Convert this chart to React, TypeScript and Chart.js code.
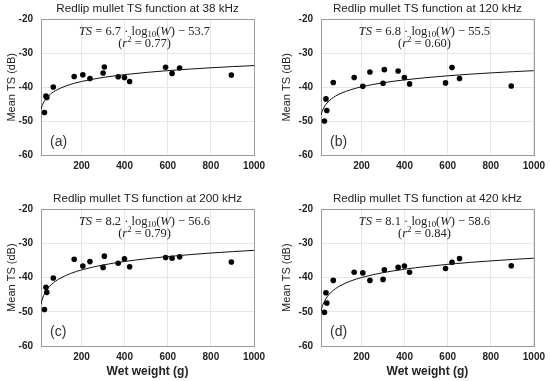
import React, { useEffect, useRef } from "react";
import { Chart, registerables } from "chart.js";

Chart.register(...registerables);

// ---- data ----
const weights = [28, 35, 39, 69, 166, 206, 239, 300, 306, 370, 399, 423, 590, 620, 655, 895];
const ts38 = [-47.4, -42.6, -43.0, -39.9, -36.8, -36.3, -37.4, -35.8, -34.0, -36.9, -37.1, -38.3, -34.1, -35.9, -34.3, -36.4];
const ts120 = [-49.9, -43.4, -46.8, -38.6, -37.1, -39.7, -35.5, -38.8, -34.8, -35.2, -37.1, -39.0, -38.7, -34.2, -37.4, -39.6];
const ts200 = [-49.3, -42.8, -44.3, -40.1, -34.6, -36.6, -35.3, -37.0, -33.7, -35.8, -34.5, -36.8, -34.1, -34.3, -33.9, -35.4];
const ts420 = [-50.1, -44.4, -47.4, -40.8, -38.4, -38.6, -40.8, -40.5, -37.7, -37.0, -36.6, -38.4, -37.3, -35.5, -34.4, -36.5];

// fitted curves (values along the drawn regression curve)
const fitWeights = [12, 15, 20, 30, 40, 60, 80, 100, 150, 200, 300, 400, 500, 600, 700, 800, 900, 1000];
const fit38 = [-46.47, -45.82, -44.98, -43.8, -42.97, -41.79, -40.95, -40.3, -39.12, -38.28, -37.1, -36.27, -35.62, -35.09, -34.64, -34.25, -33.91, -33.6];
const fit120 = [-48.16, -47.5, -46.65, -45.46, -44.61, -43.41, -42.56, -41.9, -40.7, -39.85, -38.66, -37.81, -37.15, -36.61, -36.15, -35.76, -35.41, -35.1];
const fit200 = [-47.75, -46.96, -45.93, -44.49, -43.46, -42.02, -40.99, -40.2, -38.76, -37.73, -36.29, -35.26, -34.47, -33.82, -33.27, -32.79, -32.38, -32.0];
const fit420 = [-49.86, -49.07, -48.06, -46.64, -45.62, -44.2, -43.19, -42.4, -40.97, -39.96, -38.53, -37.52, -36.74, -36.1, -35.55, -35.09, -34.67, -34.3];

const frequencies = ["38", "120", "200", "420"];
const slopes = ["6.7", "6.8", "8.2", "8.1"];
const intercepts = ["53.7", "55.5", "56.6", "58.6"];
const rSquared = ["0.77", "0.60", "0.79", "0.84"];
const panelLetters = ["(a)", "(b)", "(c)", "(d)"];
const xTicks = [200, 400, 600, 800, 1000];
const yTicks = [-20, -30, -40, -50, -60];
const xLabel = "Wet weight (g)";
const yLabel = "Mean TS (dB)";

const seriesList = [ts38, ts120, ts200, ts420];
const fitList = [fit38, fit120, fit200, fit420];

const SANS = '"Liberation Sans", Arial, sans-serif';
const SERIF = '"Liberation Serif", "Times New Roman", serif';

type Run = { t: string; italic?: boolean; sub?: boolean; sup?: boolean };

function drawRuns(ctx: CanvasRenderingContext2D, runs: Run[], cx: number, cy: number, size: number) {
  const fontFor = (r: Run) =>
    `${r.italic ? "italic " : ""}${r.sub || r.sup ? size * 0.7 : size}px ${SERIF}`;
  let total = 0;
  const widths: number[] = [];
  runs.forEach((r) => {
    ctx.font = fontFor(r);
    const w = ctx.measureText(r.t).width;
    widths.push(w);
    total += w;
  });
  let x = cx - total / 2;
  ctx.textBaseline = "middle";
  ctx.textAlign = "left";
  runs.forEach((r, i) => {
    ctx.font = fontFor(r);
    let y = cy;
    if (r.sub) y += size * 0.28;
    if (r.sup) y -= size * 0.3;
    ctx.fillText(r.t, x, y);
    x += widths[i];
  });
}

interface PanelProps {
  idx: number;
  width: number;
  height: number;
  left: number;
  right: number;
  bottom: number;
  showXTitle: boolean;
}

function Panel({ idx, width, height, left, right, bottom, showXTitle }: PanelProps) {
  const ref = useRef<HTMLCanvasElement | null>(null);

  useEffect(() => {
    const canvas = ref.current;
    if (!canvas) return;

    const decor = {
      id: "decor" + idx,
      beforeDatasetsDraw(chart: any) {
        const { ctx, chartArea } = chart;
        ctx.save();
        ctx.strokeStyle = "#9a9a9a";
        ctx.lineWidth = 1;
        ctx.strokeRect(
          Math.round(chartArea.left) + 0.5,
          Math.round(chartArea.top) + 0.5,
          Math.round(chartArea.right - chartArea.left),
          Math.round(chartArea.bottom - chartArea.top)
        );
        ctx.restore();
      },
      afterDatasetsDraw(chart: any) {
        const { ctx, chartArea } = chart;
        ctx.save();
        ctx.fillStyle = "#222";
        const cx = (chartArea.left + chartArea.right) / 2 - 3;
        const size = 12.5;
        drawRuns(
          ctx,
          [
            { t: "TS", italic: true },
            { t: " = " + slopes[idx] + " · log" },
            { t: "10", sub: true },
            { t: "(" },
            { t: "W", italic: true },
            { t: ") − " + intercepts[idx] },
          ],
          cx,
          chartArea.top + 12,
          size
        );
        drawRuns(
          ctx,
          [
            { t: "(" },
            { t: "r", italic: true },
            { t: "2", sup: true },
            { t: " = " + rSquared[idx] + ")" },
          ],
          cx,
          chartArea.top + 24.5,
          size
        );
        ctx.fillStyle = "#333";
        ctx.font = `14px ${SANS}`;
        ctx.textBaseline = "middle";
        ctx.textAlign = "left";
        ctx.fillText(panelLetters[idx], chartArea.left + 9, chartArea.bottom - 13.5);
        ctx.restore();
      },
    };

    const chart = new Chart(canvas, {
      type: "scatter",
      data: {
        datasets: [
          {
            type: "line",
            label: "fit",
            data: fitWeights.map((w, i) => ({ x: w, y: fitList[idx][i] })),
            borderColor: "#111",
            borderWidth: 1,
            pointRadius: 0,
            fill: false,
            cubicInterpolationMode: "monotone",
          } as any,
          {
            label: "TS",
            data: weights.map((w, i) => ({ x: w, y: seriesList[idx][i] })),
            backgroundColor: "#000",
            borderColor: "#000",
            pointRadius: 2.8,
            pointBorderWidth: 0,
          },
        ],
      },
      plugins: [decor],
      options: {
        animation: false,
        responsive: false,
        devicePixelRatio: 1,
        layout: { padding: { left: 0, right: width - right, top: 0, bottom: 0 } },
        plugins: {
          legend: { display: false },
          tooltip: { enabled: false },
          title: {
            display: true,
            text: `Redlip mullet TS function at ${frequencies[idx]} kHz`,
            color: "#222",
            font: { family: SANS, size: 11.7, weight: "normal" },
            padding: { top: 2, bottom: 3.3 },
            fullSize: false,
          } as any,
        },
        scales: {
          x: {
            type: "linear",
            min: 12,
            max: 1000,
            afterBuildTicks: (s: any) => {
              s.ticks = xTicks.map((v) => ({ value: v }));
            },
            afterFit: (s: any) => {
              s.height = height - bottom;
            },
            ticks: {
              color: "#222",
              font: { family: SANS, size: 10, weight: "bold" },
              padding: 5,
              maxRotation: 0,
              autoSkip: false,
              callback: (v: any) => String(v),
            },
            grid: { color: "#e6e6e6", drawTicks: false },
            border: { display: false },
            title: {
              display: showXTitle,
              text: xLabel,
              color: "#222",
              font: { family: SANS, size: 12, weight: "bold" },
              padding: { top: 0, bottom: 2.2 },
            },
          },
          y: {
            type: "linear",
            min: -60,
            max: -20,
            afterBuildTicks: (s: any) => {
              s.ticks = yTicks.map((v) => ({ value: v }));
            },
            afterFit: (s: any) => {
              s.width = left;
            },
            ticks: {
              color: "#222",
              font: { family: SANS, size: 10, weight: "bold" },
              padding: 8,
              callback: (v: any) => String(v),
            },
            grid: { color: "#e6e6e6", drawTicks: false },
            border: { display: false },
            title: {
              display: true,
              text: yLabel,
              color: "#222",
              font: { family: SANS, size: 11, weight: "normal" },
              padding: { top: 5.4, bottom: 0 },
            },
          },
        },
      } as any,
    });
    return () => chart.destroy();
  }, [idx, width, height, left, right, bottom, showXTitle]);

  return <canvas ref={ref} width={width} height={height} style={{ width, height, display: "block" }} />;
}

export default function App() {
  const panels = [
    { idx: 0, x: 0, y: 0, width: 275, height: 190, left: 41, right: 254, bottom: 155.3, showXTitle: false },
    { idx: 1, x: 275, y: 0, width: 275, height: 190, left: 46, right: 260, bottom: 155.3, showXTitle: false },
    { idx: 2, x: 0, y: 190, width: 275, height: 191, left: 41, right: 254, bottom: 156, showXTitle: true },
    { idx: 3, x: 275, y: 190, width: 275, height: 191, left: 46, right: 260, bottom: 156, showXTitle: true },
  ];
  return (
    <div style={{ position: "absolute", left: 0, top: 0, width: 550, height: 381, background: "#fff" }}>
      {panels.map((p) => (
        <div key={p.idx} style={{ position: "absolute", left: p.x, top: p.y, width: p.width, height: p.height }}>
          <Panel
            idx={p.idx}
            width={p.width}
            height={p.height}
            left={p.left}
            right={p.right}
            bottom={p.bottom}
            showXTitle={p.showXTitle}
          />
        </div>
      ))}
    </div>
  );
}
